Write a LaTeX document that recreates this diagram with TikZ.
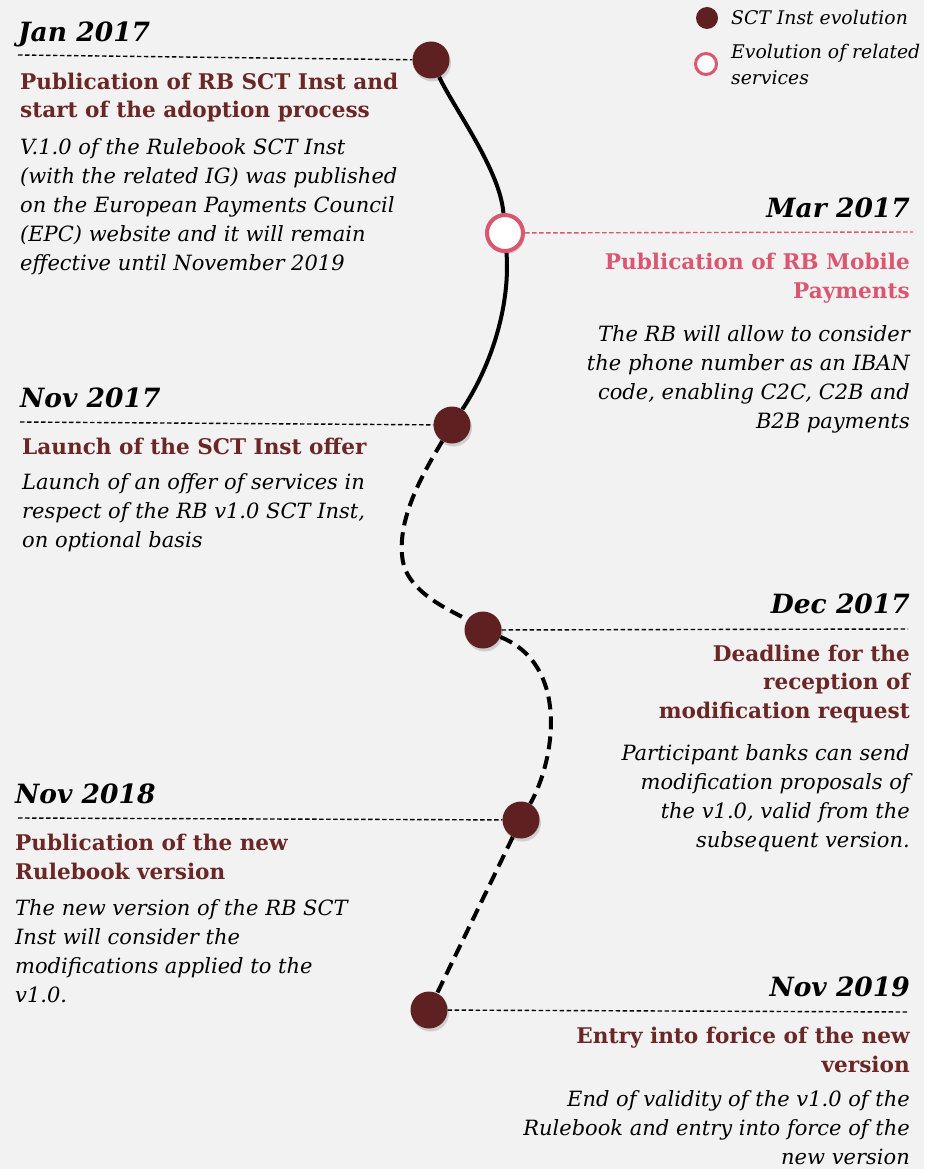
\documentclass[tikz,border=0pt]{standalone}
\usepackage{fontspec}
\setmainfont{DejaVu Serif}
\usetikzlibrary{shadows}
\definecolor{bg}{HTML}{F2F2F2}
\definecolor{wine}{HTML}{5E2020}
\definecolor{winetxt}{HTML}{6B2626}
\definecolor{rose}{HTML}{DB5670}

\begin{document}
\begin{tikzpicture}[x=1pt,y=-1pt,
evt/.style={circle,fill=wine,minimum size=37pt,inner sep=0pt,drop shadow={opacity=0.3,shadow xshift=1.5pt,shadow yshift=-3pt}},
rel/.style={circle,draw=rose,line width=4pt,fill=white,minimum size=36pt,inner sep=0pt,drop shadow={opacity=0.3,shadow xshift=1.5pt,shadow yshift=-3pt}},
guide/.style={dash pattern=on 4.5pt off 2.5pt,line width=1.4pt},
date/.style={font=\fontsize{26.5}{28}\selectfont\bfseries\itshape,inner sep=0pt},
head/.style={font=\fontsize{21.6}{28.5}\selectfont\bfseries,text=winetxt,inner sep=0pt},
body/.style={font=\fontsize{21}{29}\selectfont\itshape,inner sep=0pt},
leg/.style={font=\fontsize{18.8}{26}\selectfont\itshape,inner sep=0pt,align=left,anchor=base west}]

\fill[bg] (0,0) rectangle (924,1169);
\useasboundingbox (0,0) rectangle (924,1169);

% legend
\node[circle,fill=wine,minimum size=22pt,inner sep=0pt] (ld) at (707,18) {};
\node[leg] (lt) at (731,25) {SCT Inst evolution};
\node[circle,draw=rose,line width=3pt,fill=white,minimum size=21pt,inner sep=0pt] (lr) at (706,64) {};
\node[leg] (lu) at (731,85) {Evolution of related\\services};

% events
\node[evt] (e1) at (431,60) {};
\node[rel] (e2) at (505,233) {};
\node[evt] (e3) at (452,425) {};
\node[evt] (e4) at (483,630) {};
\node[evt] (e5) at (521,820) {};
\node[evt] (e6) at (429,1010) {};

\coordinate (g1) at (18,55);
\coordinate (g2) at (913,232);
\coordinate (g3) at (20,422);
\coordinate (g4) at (908,629);
\coordinate (g5) at (18,818);
\coordinate (g6) at (908,1012);

% timeline
\draw[line width=4pt] (e1) .. controls (455,110) and (500,170) .. (e2)
  (e2) .. controls (510,300) and (495,360) .. (e3);
\draw[line width=4pt,dash pattern=on 13pt off 7pt]
  (e3) .. controls (425,470) and (395,520) .. (403,562)
  .. controls (410,595) and (455,612) .. (e4)
  (e4) .. controls (570,665) and (555,760) .. (e5)
  (e5) -- (e6);

\path[guide]
(g1) edge (e1)
(e2) edge[draw=rose] (g2)
(g3) edge (e3)
(e4) edge (g4)
(g5) edge (e5)
(e6) edge (g6);

% Jan 2017 (base = last line)
\node[date,anchor=base west] (d1) at (18,42) {Jan 2017};
\node[head,align=left,anchor=base west] (h1) at (20,118) {Publication of RB SCT Inst and\\start of the adoption process};
\node[body,align=left,anchor=base west] (b1) at (20,270) {V.1.0 of the Rulebook SCT Inst\\(with the related IG) was published\\on the European Payments Council\\(EPC) website and it will remain\\effective until November 2019};

% Mar 2017
\node[date,anchor=base east] (d2) at (910,218) {Mar 2017};
\node[head,text=rose,align=right,anchor=base east] (h2) at (910,298) {Publication of RB Mobile\\Payments};
\node[body,align=right,anchor=base east] (b2) at (910,428) {The RB will allow to consider\\the phone number as an IBAN\\code, enabling C2C, C2B and\\B2B payments};

% Nov 2017
\node[date,anchor=base west] (d3) at (20,407) {Nov 2017};
\node[head,align=left,anchor=base west] (h3) at (22,454) {Launch of the SCT Inst offer};
\node[body,align=left,anchor=base west] (b3) at (22,547) {Launch of an offer of services in\\respect of the RB v1.0 SCT Inst,\\on optional basis};

% Dec 2017
\node[date,anchor=base east] (d4) at (910,613) {Dec 2017};
\node[head,align=right,anchor=base east] (h4) at (910,718) {Deadline for the\\reception of\\modification request};
\node[body,align=right,anchor=base east] (b4) at (910,847) {Participant banks can send\\modification proposals of\\the v1.0, valid from the\\subsequent version.};

% Nov 2018
\node[date,anchor=base west] (d5) at (15,803) {Nov 2018};
\node[head,align=left,anchor=base west] (h5) at (15,879) {Publication of the new\\Rulebook version};
\node[body,align=left,anchor=base west] (b5) at (15,1002) {The new version of the RB SCT\\Inst will consider the\\modifications applied to the\\v1.0.};

% Nov 2019
\node[date,anchor=base east] (d6) at (910,996) {Nov 2019};
\node[head,align=right,anchor=base east] (h6) at (910,1072) {Entry into forice of the new\\version};
\node[body,align=right,anchor=base east] (b6) at (910,1164) {End of validity of the v1.0 of the\\Rulebook and entry into force of the\\new version};
\end{tikzpicture}
\end{document}
